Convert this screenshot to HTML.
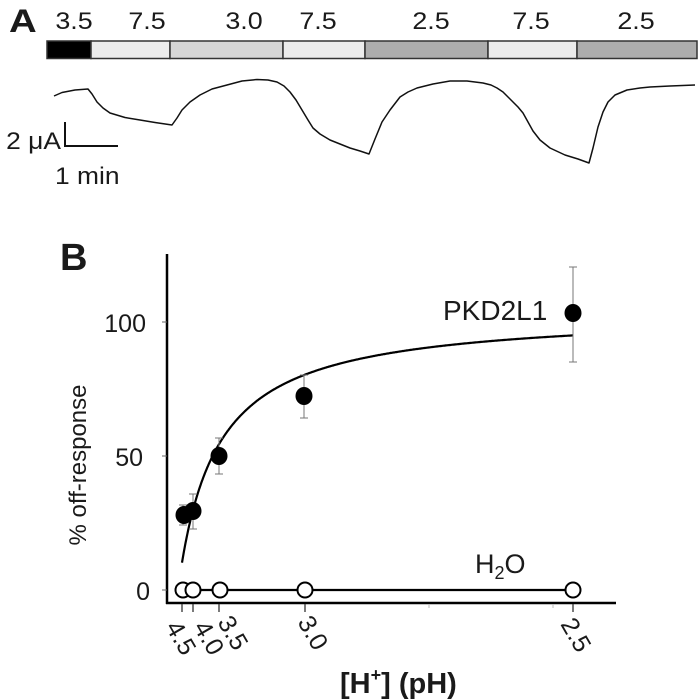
<!DOCTYPE html>
<html><head><meta charset="utf-8"><style>
html,body{margin:0;padding:0;background:#fff;}
svg{display:block;}
text{font-family:"Liberation Sans",Arial,sans-serif;fill:#1a1a1a;}
</style></head><body>
<svg width="700" height="699" viewBox="0 0 700 699" xmlns="http://www.w3.org/2000/svg">
<!-- Panel A -->
<text transform="translate(9,32) scale(1.2,1)" font-size="32" font-weight="bold" fill="#000">A</text>
<g font-size="24">
<text transform="translate(74,29) scale(1.12,1)" text-anchor="middle">3.5</text>
<text transform="translate(147,29) scale(1.12,1)" text-anchor="middle">7.5</text>
<text transform="translate(244,29) scale(1.12,1)" text-anchor="middle">3.0</text>
<text transform="translate(318,29) scale(1.12,1)" text-anchor="middle">7.5</text>
<text transform="translate(431,29) scale(1.12,1)" text-anchor="middle">2.5</text>
<text transform="translate(531,29) scale(1.12,1)" text-anchor="middle">7.5</text>
<text transform="translate(636,29) scale(1.12,1)" text-anchor="middle">2.5</text>
</g>
<g stroke="#333" stroke-width="1.5">
<rect x="47" y="41" width="44" height="17.5" fill="#000"/>
<rect x="91" y="41" width="79" height="17.5" fill="#ececec"/>
<rect x="170" y="41" width="113" height="17.5" fill="#d6d6d6"/>
<rect x="283" y="41" width="82" height="17.5" fill="#ececec"/>
<rect x="365" y="41" width="123" height="17.5" fill="#adadad"/>
<rect x="488" y="41" width="89" height="17.5" fill="#ececec"/>
<rect x="577" y="41" width="120" height="17.5" fill="#adadad"/>
</g>
<path d="M54,96 L62,92.5 L75,90 L88,89 L92,94 L97,102 L103,108 L110,113 L125,117.5 L140,120 L155,122.5 L172,125 L177,118 L182,110 L190,102 L200,95 L212,89 L227,85 L242,81 L257,79.5 L268,80 L277,82 L284,86 L290,92 L296,100 L302,110 L308,120 L313,128 L320,134 L330,140 L340,144 L350,148 L360,151 L369,154 L375,139 L382,122 L390,110 L400,97 L408,92 L417,88 L433,84 L450,81 L467,81 L483,83 L491,85 L497,88 L503,92 L508,97 L513,102 L518,107 L523,113 L528,122 L533,131 L540,140 L550,148 L565,155 L578,159 L589,163 L593,148 L598,127 L603,112 L608,102 L615,95 L627,90 L640,88 L650,87 L670,86 L695,85" fill="none" stroke="#111" stroke-width="1.5" stroke-linejoin="round"/>
<path d="M65,122 L65,146 L118,146" fill="none" stroke="#111" stroke-width="2"/>
<text transform="translate(61,149) scale(1.1,1)" font-size="24" text-anchor="end">2 μA</text>
<text transform="translate(55,184) scale(1.1,1)" font-size="24">1 min</text>

<!-- Panel B -->
<text x="60" y="270" font-size="38" font-weight="bold" fill="#000">B</text>
<line x1="167" y1="254" x2="167" y2="604" stroke="#000" stroke-width="2.5"/>
<line x1="166" y1="603" x2="616" y2="603" stroke="#000" stroke-width="2.5"/>
<g stroke="#666" stroke-width="1">
<line x1="162" y1="322" x2="167" y2="322"/>
<line x1="162" y1="456" x2="167" y2="456"/>
<line x1="162" y1="590" x2="167" y2="590"/>
</g>
<g font-size="25">
<text x="146" y="332" text-anchor="end">100</text>
<text x="143" y="466" text-anchor="end">50</text>
<text x="150" y="600" text-anchor="end">0</text>
</g>
<text transform="translate(86,465) rotate(-90)" font-size="24" text-anchor="middle">% off-response</text>
<g stroke="#333" stroke-width="1.3">
<line x1="182" y1="604" x2="182" y2="612"/>
<line x1="193" y1="604" x2="193" y2="612"/>
<line x1="219" y1="604" x2="219" y2="612"/>
<line x1="305" y1="604" x2="305" y2="612"/>
<line x1="573" y1="604" x2="573" y2="612"/>
</g>
<g stroke="#bbb" stroke-width="1">
<line x1="429" y1="604" x2="429" y2="608"/>
<line x1="553" y1="604" x2="553" y2="608"/>
</g>
<g font-size="25">
<text transform="translate(165,627) rotate(60)">4.5</text>
<text transform="translate(193,627) rotate(60)">4.0</text>
<text transform="translate(217,622) rotate(60)">3.5</text>
<text transform="translate(297,622) rotate(60)">3.0</text>
<text transform="translate(560,624) rotate(60)">2.5</text>
</g>
<text x="340" y="693" font-size="29" font-weight="bold" fill="#111">[H<tspan font-size="18" dy="-12">+</tspan><tspan dy="12">] (pH)</tspan></text>
<path id="fit" d="" fill="none" stroke="#000" stroke-width="2.2"/>
<g stroke="#777" stroke-width="1">
<line x1="183" y1="505" x2="183" y2="525"/><line x1="179" y1="505" x2="187" y2="505"/><line x1="179" y1="525" x2="187" y2="525"/>
<line x1="193" y1="494" x2="193" y2="529"/><line x1="189" y1="494" x2="197" y2="494"/><line x1="189" y1="529" x2="197" y2="529"/>
<line x1="219" y1="438" x2="219" y2="474"/><line x1="215" y1="438" x2="223" y2="438"/><line x1="215" y1="474" x2="223" y2="474"/>
<line x1="304" y1="375" x2="304" y2="418"/><line x1="300" y1="375" x2="308" y2="375"/><line x1="300" y1="418" x2="308" y2="418"/>
<line x1="573" y1="267" x2="573" y2="362"/><line x1="569" y1="267" x2="577" y2="267"/><line x1="569" y1="362" x2="577" y2="362"/>
</g>
<g fill="#000">
<ellipse cx="184" cy="515" rx="8.5" ry="9"/>
<ellipse cx="193" cy="511" rx="8.5" ry="9"/>
<ellipse cx="219" cy="456" rx="8.5" ry="9"/>
<ellipse cx="304" cy="396" rx="8.5" ry="9"/>
<ellipse cx="573" cy="313" rx="8.5" ry="9"/>
</g>
<line x1="183" y1="590" x2="573" y2="590" stroke="#000" stroke-width="2.2"/>
<g fill="#fff" stroke="#000" stroke-width="2">
<circle cx="183" cy="590" r="7.5"/>
<circle cx="193" cy="590" r="7.5"/>
<circle cx="220" cy="590" r="7.5"/>
<circle cx="305" cy="590" r="7.5"/>
<circle cx="573" cy="590" r="7.5"/>
</g>
<text x="443" y="320" font-size="28">PKD2L1</text>
<text x="475" y="573" font-size="27">H<tspan font-size="18" dy="6">2</tspan><tspan dy="-6">O</tspan></text>
</svg>
<script>
(function(){
var d="";var first=true;
for(var H=0.032;H<=3.1623;H+=0.004){
 var v=104*H/(0.30+H);var x=178+124.92*H;var y=589.5-2.675*v;
 d+=(first?"M":"L")+x.toFixed(1)+","+y.toFixed(1)+" ";first=false;}
var H2=3.1623,v2=104*H2/(0.30+H2);d+="L"+(178+124.92*H2).toFixed(1)+","+(589.5-2.675*v2).toFixed(1);
document.getElementById("fit").setAttribute("d",d);
})();
</script>
</body></html>
